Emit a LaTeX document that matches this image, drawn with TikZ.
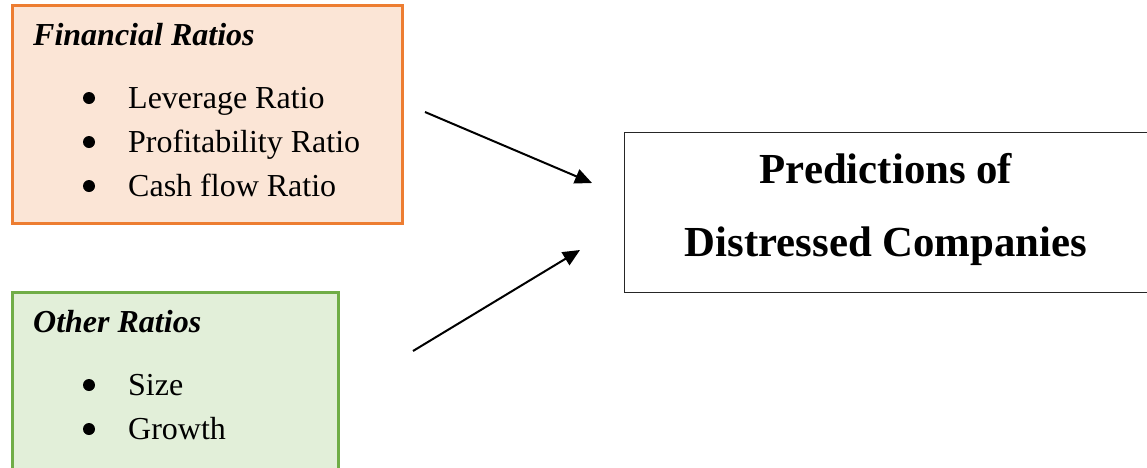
\documentclass[tikz,border=0pt]{standalone}
\usepackage{fontspec}
\setmainfont{Liberation Serif}
\usetikzlibrary{arrows.meta}
\definecolor{orangeline}{HTML}{ED7D31}
\definecolor{orangefill}{HTML}{FBE5D6}
\definecolor{greenline}{HTML}{70AD47}
\definecolor{greenfill}{HTML}{E2EFD9}
\tikzset{
  panel/.style={rectangle, inner sep=0pt, anchor=north west, line width=2.5pt},
  heading/.style={anchor=base west, inner sep=0pt, font=\fontsize{32}{38}\selectfont\bfseries\itshape},
  item/.style={anchor=base west, inner sep=0pt, font=\fontsize{32}{38}\selectfont},
  dot/.style={circle, fill=black, inner sep=0pt, minimum size=12pt},
  bigtext/.style={anchor=base, inner sep=0pt, font=\fontsize{42.8}{50}\selectfont\bfseries},
  flow/.style={line width=2pt, -{Triangle[length=17pt,width=15pt]}}
}
\begin{document}
\begin{tikzpicture}[x=1pt,y=-1pt]
\useasboundingbox (0,0) rectangle (1147,467);
\clip (0,0) rectangle (1147,467);
% boxes
\node[panel, draw=orangeline, fill=orangefill, minimum width=390pt, minimum height=218pt] (fin) at (11,4) {};
\node[panel, draw=greenline, fill=greenfill, minimum width=326pt, minimum height=200pt] (oth) at (11,291) {};
\node[panel, draw=black!85, line width=1.4pt, fill=white, minimum width=540pt, minimum height=160pt] (pred) at (624,132) {};
% financial ratios
\node[heading] (finh) at (33,45) {Financial Ratios};
\node[dot] (b1) at (89,98) {};
\node[item] (t1) at (128,108) {Leverage Ratio};
\node[dot] (b2) at (89,142) {};
\node[item] (t2) at (128,152) {Profitability Ratio};
\node[dot] (b3) at (89,186) {};
\node[item] (t3) at (128,196) {Cash flow Ratio};
% other ratios
\node[heading] (othh) at (33,332) {Other Ratios};
\node[dot] (b4) at (89,385) {};
\node[item] (t4) at (128,395) {Size};
\node[dot] (b5) at (89,429) {};
\node[item] (t5) at (128,439) {Growth};
% prediction text
\node[bigtext] (p1) at (886,183) {Predictions of};
\node[bigtext] (p2) at (886,256) {Distressed Companies};
% arrows
\coordinate (a1s) at (425,112);
\coordinate (a1e) at (592,183);
\coordinate (a2s) at (413,351);
\coordinate (a2e) at (580,250);
\draw[flow] (a1s) -- (a1e);
\draw[flow] (a2s) -- (a2e);
\end{tikzpicture}
\end{document}
